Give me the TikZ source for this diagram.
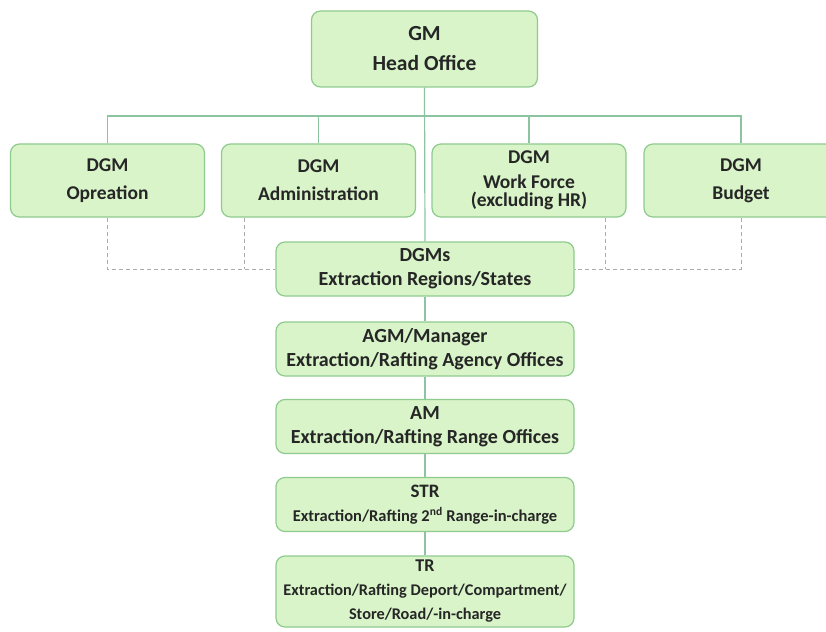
\documentclass[tikz,border=0pt]{standalone}
\usepackage{fontspec}
\setmainfont{Carlito}
\usepackage{xcolor}
\usetikzlibrary{positioning}

\definecolor{boxfill}{HTML}{D8F4C8}
\definecolor{boxline}{HTML}{8FCB8E}
\definecolor{linkline}{HTML}{8CC4A2}
\definecolor{dashline}{HTML}{ABABAB}
\definecolor{txt}{HTML}{262626}

\tikzset{
	office/.style={rectangle, rounded corners=9pt, draw=boxline, line width=1.2pt, fill=boxfill,
		text=txt, align=center, inner sep=0pt, font=\bfseries},
	topbox/.style={office, minimum width=226pt, minimum height=76pt, font=\bfseries\fontsize{21.5}{30}\selectfont},
	dgmbox/.style={office, minimum width=194pt, minimum height=73pt, font=\bfseries\fontsize{19.5}{28}\selectfont},
	levelbox/.style={office, minimum width=298pt, minimum height=54pt, font=\bfseries\fontsize{20}{24}\selectfont},
	link/.style={draw=linkline, line width=1.2pt},
	dashlink/.style={draw=dashline, line width=0.9pt, dash pattern=on 4pt off 3pt}
}

\begin{document}
\begin{tikzpicture}[x=1pt, y=-1pt]
		\useasboundingbox[fill=white] (0,0) rectangle (826,631);

		\node[topbox] (gm) at (424.5,49) {GM\\Head Office};

		\node[dgmbox] (op) at (107.5,180.5) {DGM\\Opreation};
		\node[dgmbox] (adm) at (318.5,180.5) {DGM\\Administration};
		\node[dgmbox] (wf) at (529,180.5) {DGM\\[-3pt]Work Force\\[-10pt](excluding HR)};
		\node[dgmbox] (bud) at (741,180.5) {DGM\\Budget};

		\node[levelbox] (dgms) at (425,269) {DGMs\\Extraction Regions/States};
		\node[levelbox] (agm) at (425,349) {AGM/Manager\\Extraction/Rafting Agency Offices};
		\node[levelbox] (am) at (425,426.5) {AM\\Extraction/Rafting Range Offices};
		\node[levelbox, font=\bfseries\fontsize{16.5}{24}\selectfont] (str) at (425,504.5) {{\fontsize{19}{24}\selectfont STR}\\Extraction/Rafting 2\textsuperscript{nd} Range-in-charge};
		\node[levelbox, minimum height=71pt, font=\bfseries\fontsize{16.3}{24}\selectfont] (tr) at (425,591.5) {{\fontsize{18}{24}\selectfont TR}\\Extraction/Rafting Deport/Compartment/\\Store/Road/-in-charge};

		\coordinate (bus) at (424.5,116);

		% solid links
		\draw[link] (op.north) |- (bus) -| (bud.north);
		\draw[link] (adm.north) -- (adm.north |- bus);
		\draw[link] (wf.north) -- (wf.north |- bus);
		\draw[link] (gm.south) -- (dgms.north);
		\draw[link] (dgms) -- (agm);
		\draw[link] (agm) -- (am);
		\draw[link] (am) -- (str);
		\draw[link] (str) -- (tr);

		% dashed links
		\draw[dashlink] (op.south) |- (dgms.west);
		\draw[dashlink] ([xshift=-74pt]adm.south) -- ([xshift=-74pt]adm.south |- dgms.west);
		\draw[dashlink] (bud.south) |- (dgms.east);
		\draw[dashlink] ([xshift=76pt]wf.south) -- ([xshift=76pt]wf.south |- dgms.east);
	\end{tikzpicture}
\end{document}
